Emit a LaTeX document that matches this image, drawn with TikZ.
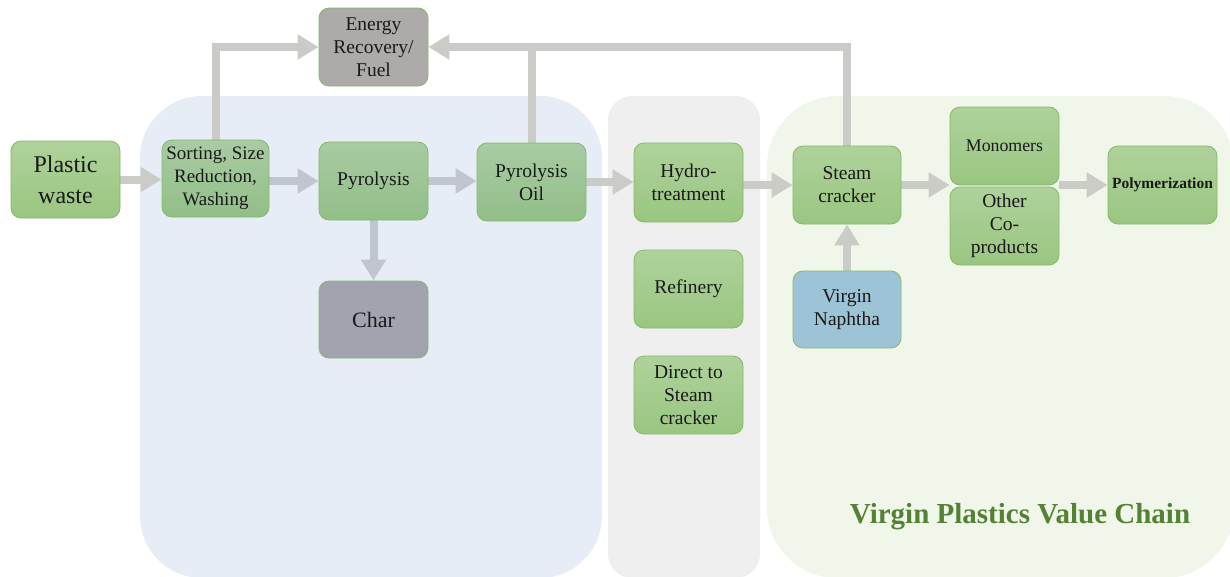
\documentclass[tikz,border=0pt]{standalone}
\usepackage{fontspec}
\setmainfont{Liberation Serif}
\usetikzlibrary{arrows.meta}
\definecolor{panelblue}{HTML}{E6EDF7}
\definecolor{panelgrey}{HTML}{EFEFEF}
\definecolor{panelgreen}{HTML}{F0F6E9}
\definecolor{boxtop}{HTML}{AFD29B}
\definecolor{boxbot}{HTML}{9AC681}
\definecolor{bboxtop}{HTML}{A8CBA3}
\definecolor{bboxbot}{HTML}{92BF88}
\definecolor{boxline}{HTML}{84B968}
\definecolor{energyfill}{HTML}{AEAAA9}
\definecolor{charfill}{HTML}{A1A4AE}
\definecolor{naphthafill}{HTML}{9DC4D6}
\definecolor{arrgrey}{HTML}{CBCCC8}
\definecolor{arrblue}{HTML}{C1C5D0}
\definecolor{titlegreen}{HTML}{548235}
\pgfdeclarelayer{panels}
\pgfdeclarelayer{links}
\pgfsetlayers{panels,links,main}
\begin{document}
\begin{tikzpicture}[x=1pt,y=-1pt,
  box/.style={draw=boxline, line width=0.8pt, rounded corners=10pt,
    top color=boxtop, bottom color=boxbot, align=center,
    minimum width=109pt, minimum height=78pt, inner sep=1pt,
    font=\fontsize{19.5}{23}\selectfont, text=black!90},
  bbox/.style={box, top color=bboxtop, bottom color=bboxbot},
  flatbox/.style={box, top color=#1, bottom color=#1},
  arr/.style={line width=8pt, draw=arrgrey, -{Triangle[width=24pt,length=21pt]}},
  arrb/.style={arr, draw=arrblue},
  shaft/.style={line width=8pt, draw=arrgrey}]
\useasboundingbox (0,0) rectangle (1230,576);
\clip (0,0) rectangle (1230,576);
% panels
\begin{pgfonlayer}{panels}
\fill[panelblue, rounded corners=62pt] (140,96) rectangle (602,578);
\fill[panelgrey, rounded corners=24pt] (608,96) rectangle (760,578);
\fill[panelgreen, rounded corners=70pt] (767,96) rectangle (1234,578);
\end{pgfonlayer}
% nodes
\node[box, font=\fontsize{24}{31}\selectfont, minimum height=77pt] (waste) at (65.5,179.5) {Plastic\\waste};
\node[bbox, minimum width=107pt, minimum height=77pt, font=\fontsize{19}{23}\selectfont] (sort) at (215.5,178.5) {Sorting, Size\\Reduction,\\Washing};
\node[bbox] (pyro) at (373.5,181) {Pyrolysis};
\node[bbox] (oil) at (531.5,182) {Pyrolysis\\Oil};
\node[flatbox=energyfill] (energy) at (373.5,47) {Energy\\Recovery/\\Fuel};
\node[flatbox=charfill, minimum height=77pt, font=\fontsize{22}{23}\selectfont] (char) at (373.5,319.5) {Char};
\node[box, minimum height=79pt] (hydro) at (688.5,182.5) {Hydro-\\treatment};
\node[box] (refinery) at (688.5,289) {Refinery};
\node[box] (direct) at (688.5,395) {Direct to\\Steam\\cracker};
\node[box, minimum width=108pt] (steam) at (847,185) {Steam\\cracker};
\node[flatbox=naphthafill, minimum width=108pt, minimum height=77pt] (naphtha) at (847,309.5) {Virgin\\Naphtha};
\node[box, font=\fontsize{17.8}{23}\selectfont] (mono) at (1004.5,146) {Monomers};
\node[box] (other) at (1004.5,226) {Other\\Co-\\products};
\node[box, font=\bfseries\fontsize{15.5}{18}\selectfont] (poly) at (1162.5,185) {Polymerization};
\node[font=\bfseries\fontsize{29}{32}\selectfont, text=titlegreen] (title) at (1020,517) {Virgin Plastics Value Chain};
% arrows
\begin{pgfonlayer}{links}
\draw[arr] (waste.east) -- (waste.east -| sort.west);
\draw[arrb] (sort.east |- pyro.west) -- (pyro.west);
\draw[arrb] (pyro.east) -- (pyro.east -| oil.west);
\draw[arrb] (pyro.south) -- (char.north);
\draw[arr] (oil.east) -- (oil.east -| hydro.west);
\draw[arr] (hydro.east |- steam.west) -- (steam.west);
\draw[arr] (steam.east) -- (steam.east -| mono.south west);
\draw[arr] (other.north east |- poly.west) -- (poly.west);
\draw[arr] (naphtha.north) -- (steam.south);
\draw[arr] (sort.north) |- (energy.west);
\draw[shaft] (oil.north) -- (oil.north |- energy.east);
\draw[arr] (steam.north) |- (energy.east);
\end{pgfonlayer}
\end{tikzpicture}
\end{document}
